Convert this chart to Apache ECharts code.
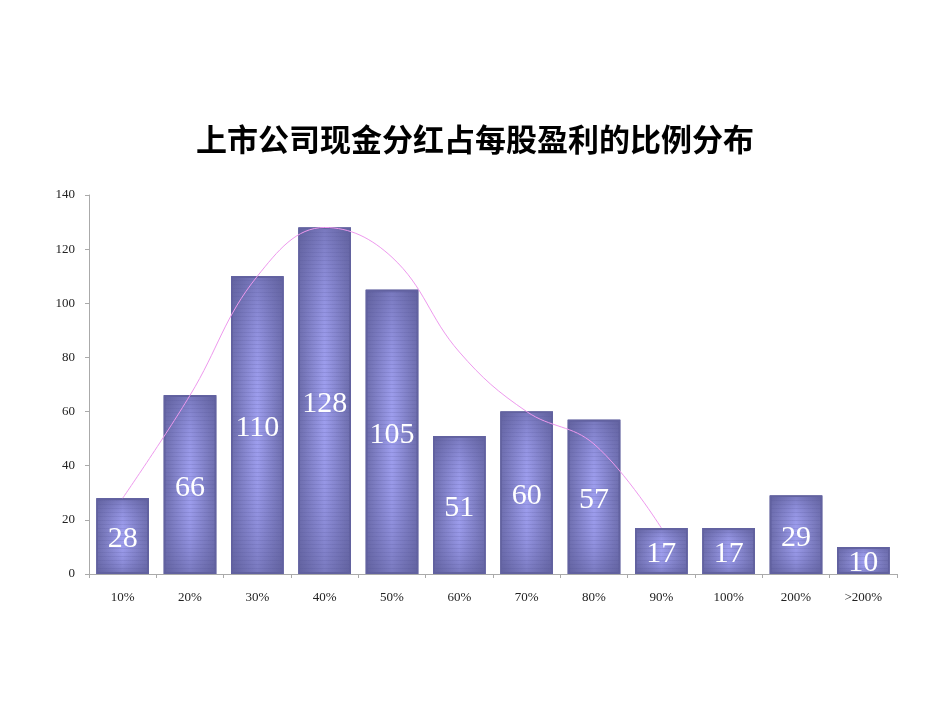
<!DOCTYPE html>
<html>
<head>
<meta charset="utf-8">
<script src="https://cdn.jsdelivr.net/npm/echarts@6/dist/echarts.min.js"></script>
<style>html,body{margin:0;padding:0;background:#fff}#c{width:950px;height:713px}</style>
</head>
<body>
<div id="c"></div>
<script>
const categories = ['10%','20%','30%','40%','50%','60%','70%','80%','90%','100%','200%','>200%'];
const barValues = [28,66,110,128,105,51,60,57,17,17,29,10];
const trendValues = [28,66,110,128,117,82,60,48,17,null,null,null];
const yTicks = [0,20,40,60,80,100,120,140];

const chart = echarts.init(document.getElementById('c'));
const serif = '"Liberation Serif","DejaVu Serif",serif';
chart.setOption({
  backgroundColor: '#ffffff',
  animation: false,
  title: {
    text: '上市公司现金分红占每股盈利的比例分布',
    left: 'center',
    top: 119,
    textStyle: { fontFamily: '"Noto Sans CJK SC",sans-serif', fontSize: 31, fontWeight: 'bold', color: '#000' }
  },
  grid: { left: 89, right: 53, top: 195, bottom: 139, containLabel: false },
  xAxis: {
    type: 'category',
    data: categories,
    axisLine: { lineStyle: { color: '#aaaaaa' } },
    axisTick: { show: true, length: 4, lineStyle: { color: '#aaaaaa' } },
    axisLabel: { margin: 17, fontFamily: serif, fontSize: 13, color: '#222' }
  },
  yAxis: {
    type: 'value',
    min: yTicks[0],
    max: yTicks[yTicks.length - 1],
    interval: 20,
    splitLine: { show: false },
    axisLine: { show: true, lineStyle: { color: '#aaaaaa' } },
    axisTick: { show: true, length: 4, lineStyle: { color: '#aaaaaa' } },
    axisLabel: { margin: 14, fontFamily: serif, fontSize: 13, color: '#222' }
  },
  series: [
    {
      type: 'bar',
      data: barValues,
      barCategoryGap: '22%',
      itemStyle: {
        color: {
          type: 'linear', x: 0, y: 0, x2: 1, y2: 0,
          colorStops: [
            { offset: 0, color: '#6a6aa8' },
            { offset: 0.12, color: '#7676b8' },
            { offset: 0.5, color: '#9e9eee' },
            { offset: 0.88, color: '#7676b8' },
            { offset: 1, color: '#6a6aa8' }
          ]
        },
        borderColor: '#6262a0',
        borderWidth: 1.5
      },
      label: { show: false },
      z: 2
    },
    {
      type: 'bar',
      data: barValues,
      barGap: '-100%',
      barCategoryGap: '22%',
      itemStyle: {
        color: {
          type: 'linear', x: 0, y: 0, x2: 0, y2: 1,
          colorStops: [
            { offset: 0, color: 'rgba(90,90,150,0.55)' },
            { offset: 0.2, color: 'rgba(110,110,180,0.25)' },
            { offset: 0.5, color: 'rgba(160,160,240,0)' },
            { offset: 0.8, color: 'rgba(110,110,180,0.25)' },
            { offset: 1, color: 'rgba(90,90,150,0.55)' }
          ]
        },
        borderColor: '#6262a0',
        borderWidth: 1.5,
        decal: {
          symbol: 'rect',
          dashArrayX: [1, 0],
          dashArrayY: [1, 3],
          color: 'rgba(85,85,150,0.18)',
          rotation: 0
        }
      },
      label: {
        show: true,
        position: 'inside',
        offset: [0, 3],
        color: '#ffffff',
        fontFamily: serif,
        fontSize: 30
      },
      z: 3
    },
    {
      type: 'line',
      data: trendValues,
      smooth: 0.4,
      showSymbol: false,
      connectNulls: false,
      lineStyle: { color: '#ee99ee', width: 1 },
      z: 4
    }
  ]
});
</script>
</body>
</html>
